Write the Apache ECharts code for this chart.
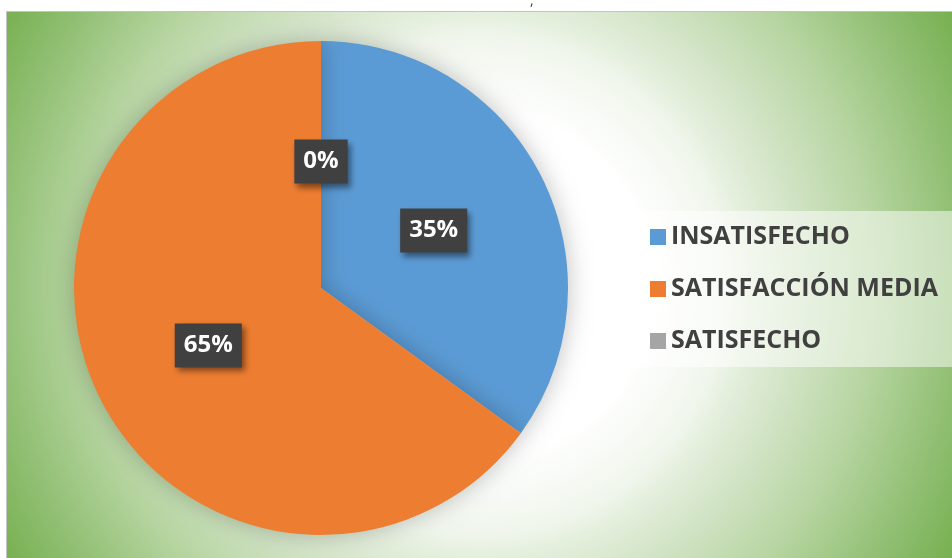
<!DOCTYPE html>
<html>
<head>
<meta charset="utf-8">
<script src="https://cdn.jsdelivr.net/npm/echarts@6/dist/echarts.min.js"></script>
<style>
  html, body { margin: 0; padding: 0; background: #ffffff; }
  #chart { width: 952px; height: 558px; }
</style>
</head>
<body>
<div id="chart"></div>
<script>
// Satisfaction survey: share of respondents per level
const categories = ['INSATISFECHO', 'SATISFACCIÓN MEDIA', 'SATISFECHO'];
const percentages = [35, 65, 0];
const sliceColors = ['#5B9BD5', '#ED7D31', '#A5A5A5'];

const chart = echarts.init(document.getElementById('chart'));

const pieData = categories.map((name, i) => ({
  name: name,
  value: percentages[i],
  itemStyle: { color: sliceColors[i] }
}));

const labelFont = 'Open Sans';

chart.setOption({
  animation: false,
  graphic: [
    {
      // chart area with a white-to-green radial fill
      type: 'rect',
      z: -10,
      shape: { x: 6.5, y: 11.5, width: 950, height: 550 },
      style: {
        fill: {
          type: 'radial',
          x: 478, y: 285, r: 550,
          global: true,
          colorStops: [
            { offset: 0, color: '#ffffff' },
            { offset: 0.31, color: '#ffffff' },
            { offset: 0.45, color: '#f0f6ec' },
            { offset: 0.5, color: '#e3eedb' },
            { offset: 0.6, color: '#cfe2c2' },
            { offset: 0.73, color: '#b5d49f' },
            { offset: 0.87, color: '#92c075' },
            { offset: 1, color: '#76af4f' }
          ]
        },
        stroke: '#c4c4c4',
        lineWidth: 1
      }
    },
    {
      type: 'text',
      left: 530,
      top: -6,
      style: { text: ',', font: '14px "Open Sans"', fill: '#404040' }
    }
  ],
  legend: {
    orient: 'vertical',
    left: 635,
    top: 211,
    padding: [13, 20, 13, 15],
    backgroundColor: 'rgba(255,255,255,0.5)',
    itemWidth: 16,
    itemHeight: 16,
    itemGap: 26,
    icon: 'rect',
    textStyle: {
      fontFamily: labelFont,
      fontWeight: 'bold',
      fontSize: 25,
      lineHeight: 26,
      color: '#404040'
    },
    data: categories
  },
  series: [
    {
      type: 'pie',
      center: [321, 288],
      radius: [0, 247],
      startAngle: 90,
      clockwise: true,
      minShowLabelAngle: 0,
      avoidLabelOverlap: false,
      itemStyle: {
        shadowBlur: 24,
        shadowColor: 'rgba(0,0,0,0.25)'
      },
      label: {
        show: true,
        position: 'inside',
        formatter: '{d}%',
        fontFamily: labelFont,
        fontWeight: 'bold',
        fontSize: 24,
        color: '#ffffff',
        backgroundColor: '#404040',
        padding: [10, 9, 10, 9],
        shadowColor: 'rgba(0,0,0,0.45)',
        shadowBlur: 6,
        shadowOffsetX: 3,
        shadowOffsetY: 4
      },
      labelLine: { show: false },
      emphasis: { disabled: true },
      data: pieData
    }
  ]
});
</script>
</body>
</html>
